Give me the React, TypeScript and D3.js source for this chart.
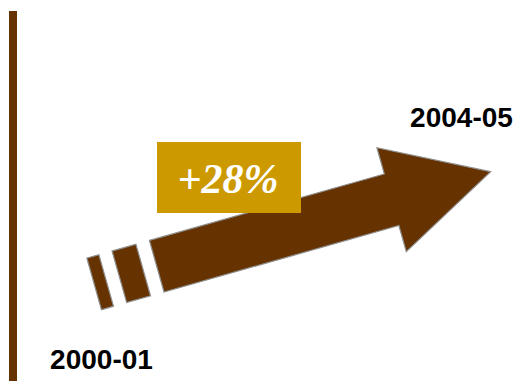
import React from "react";
import * as d3 from "d3";

const periods = ["2000-01", "2004-05"];
const indexValues = [100, 128];
const changeLabel = "+28%";

const W = 531;
const H = 381;

export default function App() {
  const x = d3.scalePoint<string>().domain(periods).range([156.7, 490.7]);
  const y = d3.scaleLinear().domain([100, 128]).range([266.2, 171.7]);

  const x0 = x(periods[0])!;
  const y0 = y(indexValues[0]);
  const x1 = x(periods[1])!;
  const y1 = y(indexValues[1]);
  const dx = x1 - x0;
  const dy = y1 - y0;
  const len = Math.hypot(dx, dy);
  const angle = (Math.atan2(dy, dx) * 180) / Math.PI;

  const shaftHalf = 26.8;
  const headHalf = 54;
  const headLen = 103;
  const baseAt = len - headLen;

  const line = d3.line();
  const arrowPts: [number, number][] = [
    [0, -shaftHalf],
    [baseAt, -shaftHalf],
    [baseAt, -headHalf],
    [len, 0],
    [baseAt, headHalf],
    [baseAt, shaftHalf],
    [0, shaftHalf],
  ];
  const stripes: [number, number][] = [
    [-38.8, -14],
    [-65, -52.5],
  ];

  const fill = "#663300";
  const stroke = "#8f8f8f";

  return (
    <svg
      width={W}
      height={H}
      style={{ position: "absolute", left: 0, top: 0, background: "#fff" }}
    >
      <rect x={9} y={11} width={8} height={H - 11} fill={fill} />
      <g transform={`translate(${x0},${y0}) rotate(${angle})`}>
        <path d={line(arrowPts)! + "Z"} fill={fill} stroke={stroke} strokeWidth={1.2} />
        {stripes.map(([a, b], i) => (
          <path
            key={i}
            d={line([[a, -shaftHalf], [b, -shaftHalf], [b, shaftHalf], [a, shaftHalf]])! + "Z"}
            fill={fill}
            stroke={stroke}
            strokeWidth={1.2}
          />
        ))}
      </g>
      <rect x={157} y={142} width={144} height={71} fill="#CC9900" />
      <text
        x={228}
        y={192.5}
        textAnchor="middle"
        fill="#fff"
        fontFamily="'Liberation Serif', 'Times New Roman', serif"
        fontWeight="bold"
        fontStyle="italic"
        fontSize={42}
      >
        {changeLabel}
      </text>
      <text
        x={x0 - 55.2}
        y={369}
        textAnchor="middle"
        fontFamily="'Liberation Sans', Arial, sans-serif"
        fontWeight="bold"
        fontSize={28}
        fill="#000"
      >
        {periods[0]}
      </text>
      <text
        x={x1 - 29.2}
        y={127}
        textAnchor="middle"
        fontFamily="'Liberation Sans', Arial, sans-serif"
        fontWeight="bold"
        fontSize={28}
        fill="#000"
      >
        {periods[1]}
      </text>
    </svg>
  );
}
